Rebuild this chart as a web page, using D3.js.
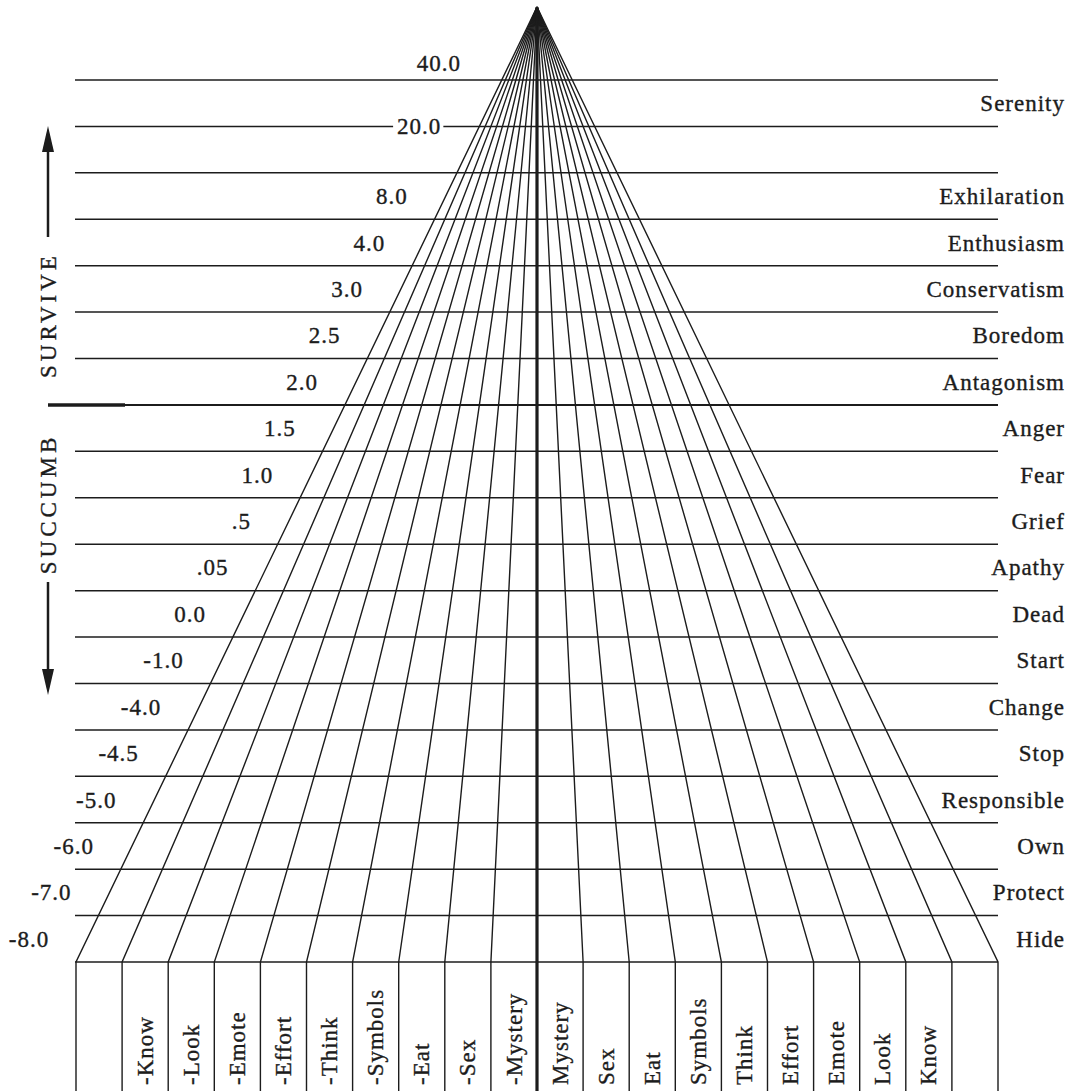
<!DOCTYPE html>
<html>
<head>
<meta charset="utf-8">
<script src="https://cdn.jsdelivr.net/npm/d3@7"></script>
<style>
  body { margin: 0; background: #fff; }
</style>
</head>
<body>
<svg id="chart"></svg>
<script>
// tone scale: emotions on the right, one per band (band 1 is empty)
var emotions = ["Serenity", "", "Exhilaration", "Enthusiasm", "Conservatism", "Boredom", "Antagonism",
  "Anger", "Fear", "Grief", "Apathy", "Dead", "Start", "Change", "Stop", "Responsible", "Own", "Protect", "Hide"];

// tone numbers on the left and the band each one sits in (20.0 sits on a line)
var tones = ["40.0", "20.0", "8.0", "4.0", "3.0", "2.5", "2.0", "1.5", "1.0", ".5", ".05", "0.0",
  "-1.0", "-4.0", "-4.5", "-5.0", "-6.0", "-7.0", "-8.0"];
var toneRows = [-1, 0.5, 2, 3, 4, 5, 6, 7, 8, 9, 10, 11, 12, 13, 14, 15, 16, 17, 18];

// dynamics along the bottom, one per column
var columns = ["", "-Know", "-Look", "-Emote", "-Effort", "-Think", "-Symbols", "-Eat", "-Sex", "-Mystery",
  "Mystery", "Sex", "Eat", "Symbols", "Think", "Effort", "Emote", "Look", "Know", ""];

var W = 1071, H = 1091;
var ink = "#1c1c1c";
var serif = "'Liberation Serif', 'DejaVu Serif', serif";
var nLines = emotions.length + 1;   // 20 horizontal lines

var svg = d3.select("#chart").attr("width", W).attr("height", H)
  .attr("font-family", serif);

var x = d3.scaleLinear().domain([0, columns.length]).range([76, 998]);
var y = d3.scaleLinear().domain([0, nLines - 1]).range([80, 962]);
var apex = { x: x(columns.length / 2), y: 7 };
var base = y(nLines - 1);

function fanLeft(yy) {
  return apex.x + (x(0) - apex.x) * (yy - apex.y) / (base - apex.y);
}

function label(sel, size) {
  return sel.attr("font-family", serif)
    .attr("font-size", size || 23)
    .attr("letter-spacing", 1)
    .attr("fill", ink)
    .attr("stroke", ink)
    .attr("stroke-width", 0.35);
}

// horizontal grid
svg.append("g").selectAll("line")
  .data(d3.range(nLines))
  .join("line")
    .attr("x1", x(0) - 1)
    .attr("x2", x(columns.length))
    .attr("y1", function(d) { return y(d); })
    .attr("y2", function(d) { return y(d); })
    .attr("stroke", ink)
    .attr("stroke-width", function(d) { return d === 7 ? 2 : 1.5; });

// survive / succumb divider
svg.append("line")
  .attr("x1", 48).attr("x2", 125)
  .attr("y1", y(7)).attr("y2", y(7))
  .attr("stroke", ink).attr("stroke-width", 3.5);

// fan lines from the apex, then straight down
svg.append("g").selectAll("path")
  .data(d3.range(columns.length + 1))
  .join("path")
    .attr("d", function(i) {
      return d3.line()([[apex.x, apex.y], [x(i), base], [x(i), H]]);
    })
    .attr("fill", "none")
    .attr("stroke", ink)
    .attr("stroke-width", function(i) { return i === columns.length / 2 ? 3.2 : 1.4; });

// right labels
svg.append("g").selectAll("text")
  .data(emotions)
  .join("text")
    .attr("x", 1065)
    .attr("y", function(d, i) { return y(i + 0.5); })
    .attr("dy", "0.35em")
    .attr("text-anchor", "end")
    .call(label)
    .text(function(d) { return d; });

// left labels, following the fan edge
var toneG = svg.append("g");
tones.forEach(function(t, i) {
  var yy = y(toneRows[i] + 0.5);
  var g = toneG.append("g");
  var txt = g.append("text")
    .attr("x", fanLeft(yy) - (toneRows[i] < 0 ? 52 : 38))
    .attr("y", yy + (toneRows[i] < 0 ? 6 : 0))
    .attr("dy", "0.35em")
    .attr("text-anchor", "end")
    .call(label)
    .text(t);
  if (t === "20.0") {
    var bb = txt.node().getBBox();
    g.insert("rect", "text")
      .attr("x", bb.x - 4).attr("y", bb.y + 2)
      .attr("width", bb.width + 6).attr("height", bb.height - 4)
      .attr("fill", "#fff");
  }
});

// column labels
svg.append("g").selectAll("text")
  .data(columns)
  .join("text")
    .attr("transform", function(d, i) { return "translate(" + x(i + 0.5) + "," + 1085 + ") rotate(-90)"; })
    .attr("dy", "0.33em")
    .call(label)
    .text(function(d) { return d; });

// SURVIVE / SUCCUMB with arrows
var side = svg.append("g");
side.append("text")
  .attr("transform", "translate(48," + 315 + ") rotate(-90)")
  .attr("dy", "0.35em")
  .attr("text-anchor", "middle")
  .call(label, 23)
  .attr("letter-spacing", 4)
  .text("SURVIVE");
side.append("text")
  .attr("transform", "translate(48," + 504 + ") rotate(-90)")
  .attr("dy", "0.35em")
  .attr("text-anchor", "middle")
  .call(label, 23)
  .attr("letter-spacing", 4)
  .text("SUCCUMB");

side.append("line").attr("x1", 48).attr("x2", 48).attr("y1", 237).attr("y2", 145)
  .attr("stroke", ink).attr("stroke-width", 2.5);
side.append("path").attr("d", "M48,126 L42,152 L54,152 Z").attr("fill", ink);
side.append("line").attr("x1", 48).attr("x2", 48).attr("y1", 582).attr("y2", 675)
  .attr("stroke", ink).attr("stroke-width", 2.5);
side.append("path").attr("d", "M48,695 L42,669 L54,669 Z").attr("fill", ink);
</script>
</body>
</html>
